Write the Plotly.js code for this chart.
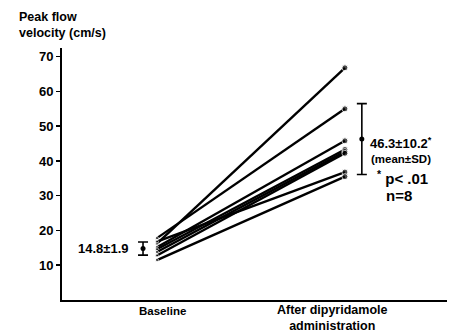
<!DOCTYPE html>
<html>
<head>
<script src="https://cdn.plot.ly/plotly-3.0.1.min.js"></script>
<style>body{margin:0;background:#fff}#chart{width:450px;height:335px}</style>
</head>
<body>
<div id="chart"></div>
<script>
var categories = ["Baseline", "After dipyridamole<br>administration"];
var baselineValues = [16.2, 17.8, 15.2, 14.6, 13.8, 12.8, 16.8, 11.5];
var afterValues = [66.8, 55.0, 45.8, 43.3, 42.7, 42.2, 36.8, 35.5];
var meanValues = [14.8, 46.3];
var sdValues = [1.9, 10.2];
var yTicks = [10, 20, 30, 40, 50, 60, 70];

var catPos = [0, 1];
var meanPos = [-0.074, 1.09];
var traces = [];
for (var i = 0; i < baselineValues.length; i++) {
  traces.push({
    type: "scatter", mode: "lines+markers",
    x: catPos, y: [baselineValues[i], afterValues[i]],
    line: {color: "#000", width: 2.4},
    marker: {color: "#000", size: [3, 6]},
    hoverinfo: "skip", showlegend: false
  });
}
traces.push({
  type: "scatter", mode: "markers",
  x: meanPos, y: meanValues,
  marker: {color: "#000", size: 5},
  error_y: {type: "data", array: sdValues, visible: true, color: "#000", thickness: 1.6, width: 5},
  showlegend: false, hoverinfo: "skip"
});

var F = "Liberation Sans, Arial, sans-serif";
var annotations = [
  {x: 0.032, y: 0, xref: "x", yref: "y", yshift: -11, text: "<b>" + categories[0] + "</b>", showarrow: false, font: {family: F, size: 11.5, color: "#000"}, yanchor: "middle"},
  {x: 0.93, y: 0, xref: "x", yref: "y", yshift: -18, text: "<b>" + categories[1] + "</b>", showarrow: false, font: {family: F, size: 12.5, color: "#000"}, yanchor: "middle"},
  {x: 0, y: 1, xref: "paper", yref: "paper", xshift: -45, yshift: 40, xanchor: "left", yanchor: "top", align: "left",
   text: "<b>Peak flow<br>velocity (cm/s)</b>", showarrow: false, font: {family: F, size: 12.5, color: "#000"}},
  {x: meanPos[0], y: meanValues[0], xref: "x", yref: "y", xshift: -12, xanchor: "right", text: "<b>" + meanValues[0] + "±" + sdValues[0] + "</b>", showarrow: false, font: {family: F, size: 13, color: "#000"}},
  {x: meanPos[1], y: meanValues[1], xref: "x", yref: "y", xshift: 6, yshift: -4, xanchor: "left", text: "<b>" + meanValues[1] + "±" + sdValues[1] + "<sup>*</sup></b>", showarrow: false, font: {family: F, size: 13, color: "#000"}},
  {x: meanPos[1], y: meanValues[1], xref: "x", yref: "y", xshift: 7, yshift: -20, xanchor: "left", text: "<b>(mean±SD)</b>", showarrow: false, font: {family: F, size: 11.5, color: "#000"}},
  {x: meanPos[1], y: meanValues[1], xref: "x", yref: "y", xshift: 13, yshift: -38, xanchor: "left", text: "<b><sup>*</sup> p< .01</b>", showarrow: false, font: {family: F, size: 15, color: "#000"}},
  {x: meanPos[1], y: meanValues[1], xref: "x", yref: "y", xshift: 22, yshift: -56, xanchor: "left", text: "<b>n=8</b>", showarrow: false, font: {family: F, size: 15, color: "#000"}}
];

var layout = {
  width: 450, height: 335,
  margin: {l: 62, r: 3, t: 48, b: 35},
  paper_bgcolor: "#fff", plot_bgcolor: "#fff",
  xaxis: {range: [-0.505, 1.543], showgrid: false, zeroline: false, showticklabels: false, ticks: "",
          showline: true, linecolor: "#000", linewidth: 2},
  yaxis: {range: [0, 72.5], tickvals: yTicks, ticktext: yTicks.map(function(v){return "<b>" + v + "</b>";}),
          showgrid: false, zeroline: false, showline: true, linecolor: "#000", linewidth: 2,
          ticks: "outside", ticklen: 4, tickwidth: 1.5, tickcolor: "#000",
          tickfont: {family: F, size: 13, color: "#000"}},
  annotations: annotations,
  showlegend: false
};
Plotly.newPlot("chart", traces, layout, {displayModeBar: false, staticPlot: true});
</script>
</body>
</html>
